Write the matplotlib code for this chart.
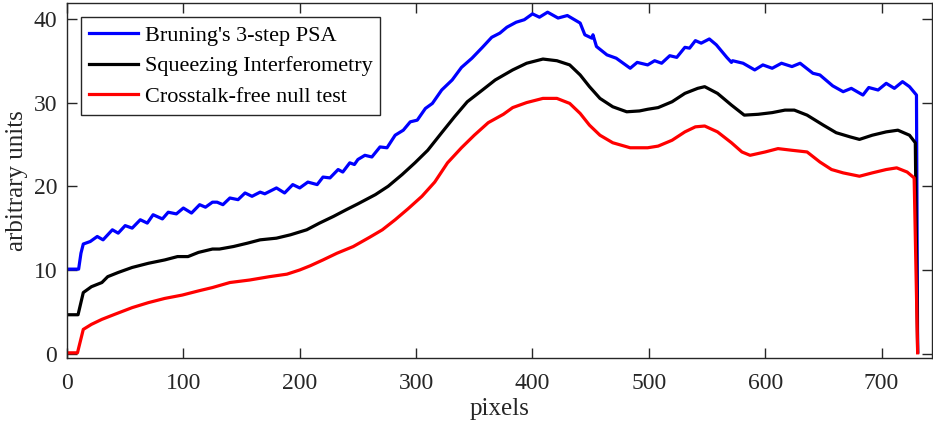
import matplotlib
matplotlib.use("Agg")
import matplotlib.pyplot as plt

# Bruning's 3-step PSA (blue)
blue_x = [0, 10, 12, 14, 20, 26, 31, 39, 44, 50, 56, 63, 69, 74, 82, 87, 94, 100, 107, 114, 119,
          125, 129, 134, 140, 147, 153, 159, 166, 170, 180, 187, 194, 200, 207, 215, 220, 226, 233,
          237, 243, 247, 250, 256, 262, 269, 275, 282, 289, 295, 301, 308, 314, 322, 331, 339, 348,
          357, 365, 372, 378, 386, 393, 400, 406, 413, 422, 430, 441, 445, 451, 452, 455, 464, 472,
          484, 490, 499, 505, 511, 518, 524, 531, 535, 540, 545, 552, 558, 567, 571, 572, 581, 591,
          598, 606, 614, 623, 630, 641, 647, 658, 667, 674, 684, 689, 697, 704, 711, 718, 724, 730, 731]
blue_y = [10.1, 10.1, 12.0, 13.1, 13.4, 14.0, 13.6, 14.8, 14.4, 15.3, 15.0, 16.0, 15.6, 16.6, 16.1,
          16.9, 16.7, 17.4, 16.8, 17.8, 17.5, 18.1, 18.1, 17.8, 18.6, 18.4, 19.2, 18.8, 19.3, 19.1,
          19.8, 19.2, 20.2, 19.8, 20.5, 20.2, 21.1, 21.0, 22.0, 21.7, 22.8, 22.6, 23.2, 23.7, 23.5,
          24.7, 24.6, 26.1, 26.7, 27.7, 27.9, 29.3, 29.9, 31.5, 32.7, 34.2, 35.3, 36.6, 37.8, 38.3,
          39.0, 39.6, 39.9, 40.6, 40.2, 40.8, 40.1, 40.4, 39.5, 38.1, 37.7, 38.1, 36.7, 35.7, 35.3,
          34.1, 34.8, 34.5, 35.0, 34.7, 35.6, 35.4, 36.6, 36.5, 37.4, 37.1, 37.6, 36.9, 35.4, 34.8,
          35.0, 34.7, 33.9, 34.5, 34.1, 34.7, 34.3, 34.7, 33.5, 33.3, 32.0, 31.3, 31.7, 30.9, 31.8,
          31.5, 32.3, 31.7, 32.5, 31.9, 30.9, 0.2]

# Squeezing Interferometry (black)
black_x = [0, 9.5, 14, 21, 30, 35, 44, 56, 70, 84, 95, 104, 113, 125, 131, 143, 155, 166, 180, 192,
           206, 217, 229, 240, 250, 265, 276, 288, 299, 310, 322, 333, 344, 357, 368, 378, 383, 395,
           409, 421, 432, 441, 449, 458, 469, 481, 492, 499, 508, 520, 531, 542, 548, 559, 571, 582,
           594, 606, 617, 625, 636, 650, 661, 673, 681, 692, 704, 714, 724, 729, 731]
black_y = [4.65, 4.65, 7.3, 8.0, 8.5, 9.2, 9.7, 10.3, 10.8, 11.2, 11.6, 11.6, 12.1, 12.5, 12.5, 12.8,
           13.2, 13.6, 13.8, 14.2, 14.8, 15.6, 16.4, 17.2, 17.9, 19.0, 20.0, 21.4, 22.8, 24.3, 26.4,
           28.3, 30.1, 31.5, 32.7, 33.5, 33.9, 34.7, 35.2, 35.0, 34.5, 33.3, 31.9, 30.5, 29.5, 28.9,
           29.0, 29.2, 29.4, 30.1, 31.1, 31.7, 31.9, 31.1, 29.7, 28.5, 28.6, 28.8, 29.1, 29.1, 28.5,
           27.3, 26.4, 25.9, 25.6, 26.1, 26.5, 26.7, 26.1, 25.2, 0.2]

# Crosstalk-free null test (red)
red_x = [0, 9, 14, 21, 30, 41, 56, 70, 84, 99, 113, 125, 140, 157, 174, 189, 200, 209, 220, 232, 246,
         260, 271, 282, 293, 305, 316, 327, 339, 350, 362, 375, 383, 395, 409, 421, 432, 441, 449, 458,
         469, 484, 499, 508, 520, 531, 540, 548, 559, 571, 580, 587, 600, 611, 623, 636, 647, 657, 667,
         681, 692, 704, 713, 722, 728, 731]
red_y = [0.1, 0.1, 2.9, 3.5, 4.1, 4.7, 5.5, 6.1, 6.6, 7.0, 7.5, 7.9, 8.5, 8.8, 9.2, 9.5, 10.0, 10.5,
         11.2, 12.0, 12.8, 13.9, 14.8, 16.0, 17.3, 18.8, 20.5, 22.8, 24.6, 26.1, 27.6, 28.6, 29.4,
         30.0, 30.5, 30.5, 29.9, 28.7, 27.3, 26.1, 25.2, 24.6, 24.6, 24.8, 25.5, 26.5, 27.1, 27.2,
         26.5, 25.2, 24.1, 23.7, 24.1, 24.5, 24.3, 24.1, 22.9, 22.0, 21.6, 21.2, 21.6, 22.0, 22.2,
         21.7, 21.0, 0.1]

labels = ["Bruning's 3-step PSA", "Squeezing Interferometry", "Crosstalk-free null test"]
x_ticks = [0, 100, 200, 300, 400, 500, 600, 700]
y_ticks = [0, 10, 20, 30, 40]

plt.rcParams['font.family'] = ['Liberation Serif', 'DejaVu Serif']

fig = plt.figure(figsize=(9.33, 4.25), dpi=100)
ax = fig.add_axes([0.0718, 0.158, 0.9267, 0.835])

ax.plot(blue_x, blue_y, color='#0000ff', lw=2.3, label=labels[0])
ax.plot(black_x, black_y, color='black', lw=2.3, label=labels[1])
ax.plot(red_x, red_y, color='#ff0000', lw=2.3, label=labels[2])

ax.set_xlim(0, 743)
ax.set_ylim(-0.5, 41.9)
ax.set_xticks(x_ticks)
ax.set_yticks(y_ticks)
ax.tick_params(direction='in', length=7, width=1, top=True, right=True,
               labelsize=17, colors='#262626')
ax.tick_params(axis='x', pad=11)
ax.tick_params(axis='y', pad=7)
for s in ax.spines.values():
    s.set_color('#262626')
    s.set_linewidth(1)

ax.set_xlabel('pixels', fontsize=18, color='#262626', labelpad=3)
ax.set_ylabel('arbitrary units', fontsize=18, color='#262626', labelpad=4)

leg = ax.legend(loc='upper left', fontsize=16, frameon=True, fancybox=False,
                edgecolor='#262626', framealpha=1, handlelength=2.2,
                borderaxespad=0.65, labelspacing=0.45, borderpad=0.35, handletextpad=0.3)
leg.get_frame().set_linewidth(1)

fig.savefig('out.png', dpi=100)
